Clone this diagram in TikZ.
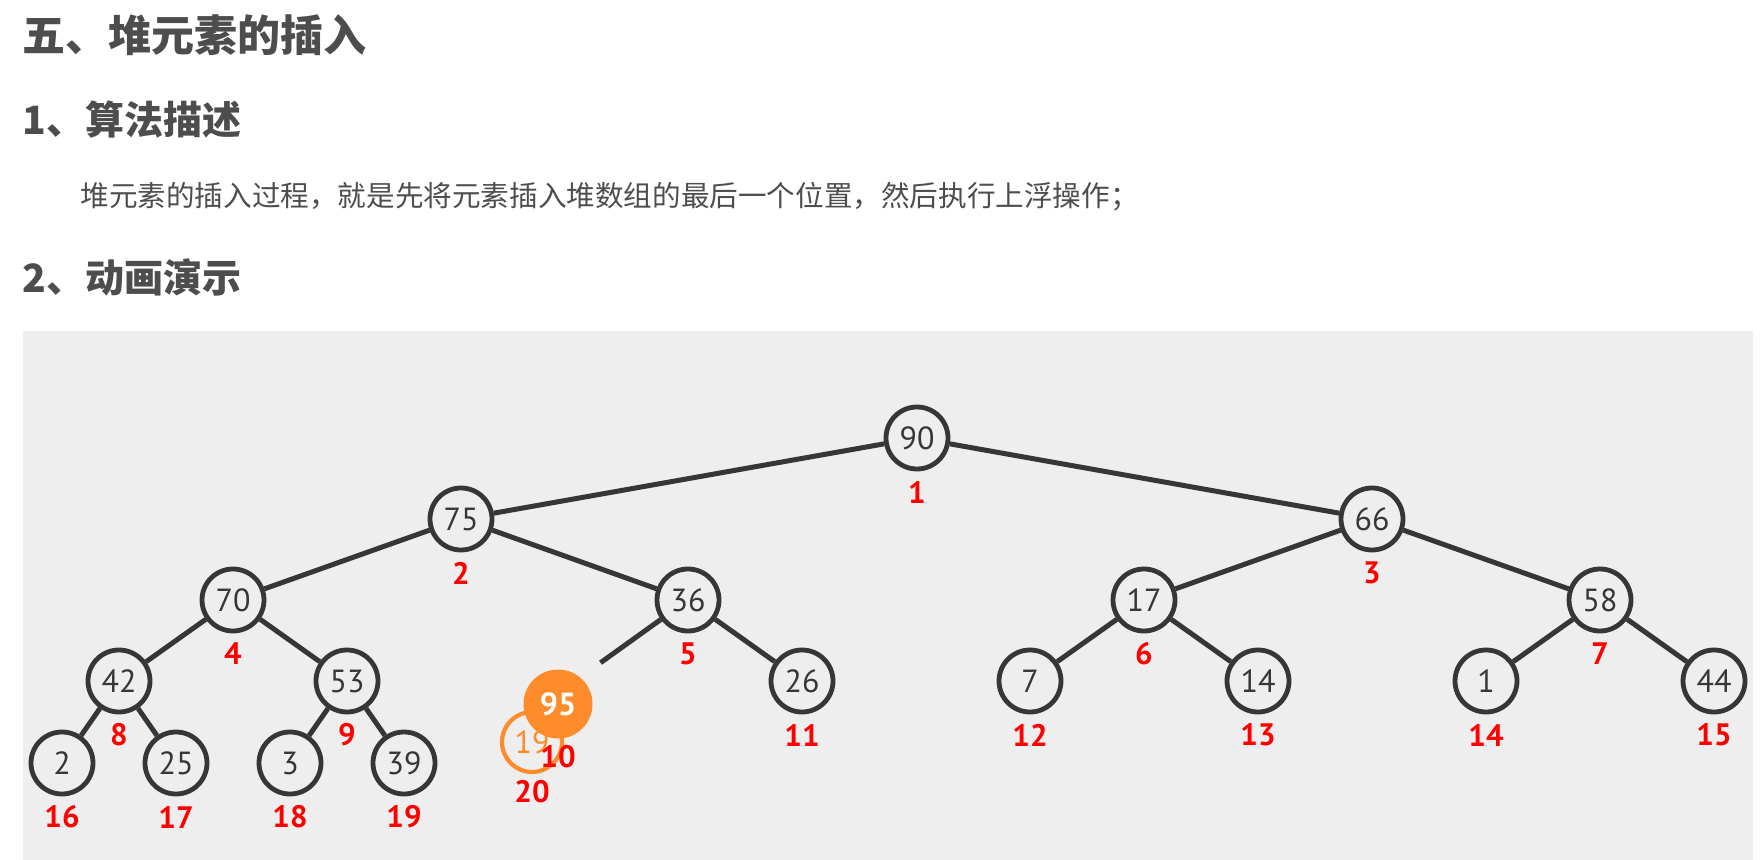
\documentclass[tikz,border=0pt]{standalone}
\usepackage{fontspec}
\usepackage{tikz}
\usetikzlibrary{positioning}
\setmainfont{PT Sans}
\newfontfamily\cjk{Noto Sans CJK SC}
\definecolor{panelgray}{HTML}{EEEEEE}
\definecolor{edgegray}{HTML}{363636}
\definecolor{headgray}{HTML}{4D4D4D}
\definecolor{idxred}{HTML}{FF0000}
\definecolor{hotorange}{HTML}{FF8C2B}
\tikzset{
  heapnode/.style={
    circle, draw=edgegray, line width=2.4pt,
    fill=panelgray, minimum size=31pt, inner sep=0pt,
    text=edgegray, font=\fontsize{16}{16}\selectfont,
  },
  slotnode/.style={
    circle, minimum size=31pt, inner sep=0pt,
  },
  hotnode/.style={
    circle, fill=hotorange, minimum size=34.5pt, inner sep=0pt,
    text=white, font=\fontsize{16}{16}\selectfont\bfseries,
  },
  ghostnode/.style={
    circle, draw=hotorange, line width=2.1pt,
    minimum size=30pt, inner sep=0pt,
    text=hotorange, font=\fontsize{16}{16}\selectfont,
  },
  idx/.style={text=idxred, inner sep=0pt, font=\fontsize{15.5}{15.5}\selectfont\bfseries},
  heading/.style={anchor=west, inner sep=0pt, text=headgray, font=\cjk\bfseries\fontsize{21.5}{21.5}\selectfont},
  subheading/.style={anchor=west, inner sep=0pt, text=headgray, font=\cjk\bfseries\fontsize{19.5}{19.5}\selectfont},
  bodytext/.style={anchor=west, inner sep=0pt, text=headgray, font=\cjk\fontsize{14.3}{14.3}\selectfont},
  edge/.style={line width=2.5pt, draw=edgegray},
}

\begin{document}
\begin{tikzpicture}[x=0.5pt, y=-0.5pt]

  \useasboundingbox (0,0) rectangle (1760,860);

  % headings and text
  \node[heading] (h1) at (22,35) {五、堆元素的插入};
  \node[subheading] (h2) at (22,119) {1、算法描述};
  \node[bodytext] (desc) at (80,197) {堆元素的插入过程，就是先将元素插入堆数组的最后一个位置，然后执行上浮操作；};
  \node[subheading] (h3) at (22,277) {2、动画演示};

  % animation panel
  \fill[panelgray] (23,331) rectangle (1753,860);

  % heap
  \node[heapnode] (n1) at (917,438) {90};
  \node[heapnode] (n2) at (461,519) {75};
  \node[heapnode] (n3) at (1372,519) {66};
  \node[heapnode] (n4) at (233,600) {70};
  \node[heapnode] (n5) at (688,600) {36};
  \node[heapnode] (n6) at (1144,600) {17};
  \node[heapnode] (n7) at (1600,600) {58};
  \node[heapnode] (n8) at (119,681) {42};
  \node[heapnode] (n9) at (347,681) {53};
  \node[slotnode] (slot10) at (575,681) {};
  \node[heapnode] (n11) at (802,681) {26};
  \node[heapnode] (n12) at (1030,681) {7};
  \node[heapnode] (n13) at (1258,681) {14};
  \node[heapnode] (n14) at (1486,681) {1};
  \node[heapnode] (n15) at (1714,681) {44};
  \node[heapnode] (n16) at (62,763) {2};
  \node[heapnode] (n17) at (176,763) {25};
  \node[heapnode] (n18) at (290,763) {3};
  \node[heapnode] (n19) at (404,763) {39};

  \node[idx] (i1) at ([yshift=-27pt]n1.center) {1};
  \node[idx] (i2) at ([yshift=-27pt]n2.center) {2};
  \node[idx] (i3) at ([yshift=-27pt]n3.center) {3};
  \node[idx] (i4) at ([yshift=-27pt]n4.center) {4};
  \node[idx] (i5) at ([yshift=-27pt]n5.center) {5};
  \node[idx] (i6) at ([yshift=-27pt]n6.center) {6};
  \node[idx] (i7) at ([yshift=-27pt]n7.center) {7};
  \node[idx] (i8) at ([yshift=-27pt]n8.center) {8};
  \node[idx] (i9) at ([yshift=-27pt]n9.center) {9};
  \node[idx] (i11) at ([yshift=-27pt]n11.center) {11};
  \node[idx] (i12) at ([yshift=-27pt]n12.center) {12};
  \node[idx] (i13) at ([yshift=-27pt]n13.center) {13};
  \node[idx] (i14) at ([yshift=-27pt]n14.center) {14};
  \node[idx] (i15) at ([yshift=-27pt]n15.center) {15};
  \node[idx] (i16) at ([yshift=-27pt]n16.center) {16};
  \node[idx] (i17) at ([yshift=-27pt]n17.center) {17};
  \node[idx] (i18) at ([yshift=-27pt]n18.center) {18};
  \node[idx] (i19) at ([yshift=-27pt]n19.center) {19};

  \draw[edge] (n1) -- (n2);
  \draw[edge] (n1) -- (n3);
  \draw[edge] (n2) -- (n4);
  \draw[edge] (n2) -- (n5);
  \draw[edge] (n3) -- (n6);
  \draw[edge] (n3) -- (n7);
  \draw[edge] (n4) -- (n8);
  \draw[edge] (n4) -- (n9);
  \draw[edge] (n5) -- (slot10);
  \draw[edge] (n5) -- (n11);
  \draw[edge] (n6) -- (n12);
  \draw[edge] (n6) -- (n13);
  \draw[edge] (n7) -- (n14);
  \draw[edge] (n7) -- (n15);
  \draw[edge] (n8) -- (n16);
  \draw[edge] (n8) -- (n17);
  \draw[edge] (n9) -- (n18);
  \draw[edge] (n9) -- (n19);

  % element being inserted
  \node[ghostnode] (old) at (532,742) {19};
  \node[idx] (i20) at ([yshift=-25pt]old.center) {20};
  \node[hotnode] (new) at (558,704) {95};
  \node[idx] (i10) at ([yshift=-26.5pt]new.center) {10};

\end{tikzpicture}
\end{document}
